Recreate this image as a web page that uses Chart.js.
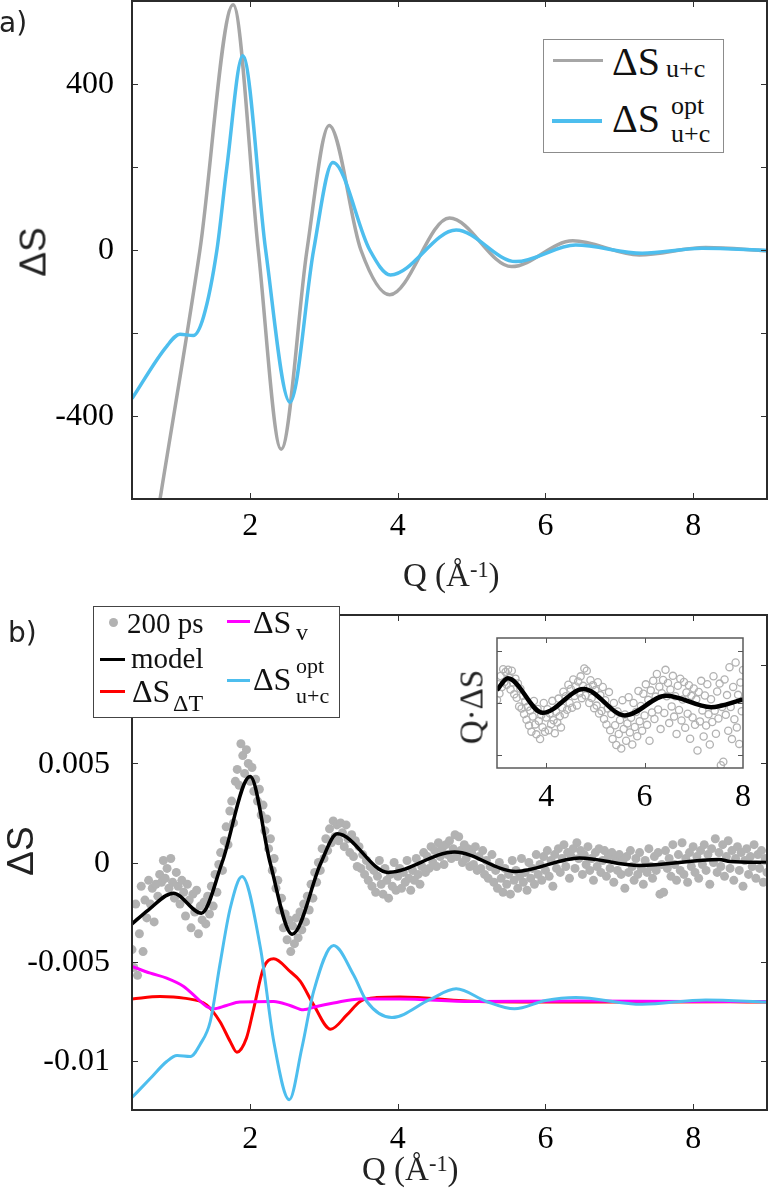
<!DOCTYPE html>
<html><head><meta charset="utf-8"><title>ΔS</title>
<script src="https://cdn.jsdelivr.net/npm/chart.js@4.4.1/dist/chart.umd.min.js"></script>
<style>
html,body{margin:0;padding:0;background:#fff}
#page{position:relative;width:772px;height:1189px;overflow:hidden;background:#fff;color:#111;font-family:"Liberation Serif",serif}
#page canvas{position:absolute}
.t{position:absolute;white-space:nowrap;line-height:1}
.box{position:absolute;background:#fff;box-sizing:border-box}
.sw{position:absolute}
.rot{position:absolute;white-space:nowrap;line-height:1;transform:translate(-50%,-50%) rotate(-90deg)}
</style></head><body><div id="page">
<canvas id="chartA" width="772" height="610" style="left:0;top:-49px"></canvas>
<canvas id="chartB" width="772" height="627" style="left:0;top:562px"></canvas>
<canvas id="chartInset" width="332" height="230" style="left:440px;top:590px"></canvas>
</div>
<script>
// ---------------- data ----------------
const qTicks = [2, 4, 6, 8];
const qTickLabels = ['2', '4', '6', '8'];
const qMin = 0.4, qMax = 9.0;

// panel a : ΔS_u+c and ΔS_u+c^opt
const yTicksA = [-400, -200, 0, 200, 400];
const yLabelsA = ['-400', '', '0', '', '400'];
const qUC  = [0.4, 0.78, 1.32, 1.77, 2.11, 2.42, 2.77, 3.07, 3.50, 3.89, 4.70, 5.54, 6.37, 7.27, 8.17, 9.0];
const dsUC = [-1020, -600, 0, 591, 0, -480, 0, 300, 0, -108, 77, -40, 22, -12, 6, -2];
const qOptA  = [0.4, 0.87, 1.05, 1.23, 1.37, 1.55, 1.685, 1.90, 2.21, 2.54, 2.86, 3.12, 3.62, 3.90, 4.79, 5.60, 6.41, 7.31, 8.12, 9.0];
const dsOptA = [-358, -232, -203, -206, -160, 0, 200, 468, 0, -367, 0, 211, 0, -60, 48, -28, 12, -8, 4, -1];

// panel b
const yTicksB = [-0.01, -0.005, 0, 0.005, 0.01];
const yLabelsB = ['-0.01', '-0.005', '0', '0.005', ''];
const qModel  = [0.4, 0.62, 0.96, 1.34, 1.62, 2.0, 2.27, 2.57, 2.96, 3.18, 3.87, 4.77, 5.6, 6.46, 7.27, 8.35, 8.5, 9.0];
const dsModel = [-0.0031, -0.0024, -0.00155, -0.00256, 0.0, 0.00434, 0.0, -0.00362, 0.0, 0.00145, -0.0005, 0.00053, -0.00045, 0.00023, -0.00015, 0.00015, 0.00005, 0.0];
const qDT  = [0.4, 0.78, 1.1, 1.41, 1.59, 1.73, 1.82, 1.95, 2.05, 2.18, 2.32, 2.54, 2.68, 2.86, 3.09, 3.31, 3.49, 3.71, 4.03, 5.1, 6.5, 8.5, 9.0];
const dsDT = [-0.00689, -0.00677, -0.00685, -0.00719, -0.00803, -0.00904, -0.00958, -0.00887, -0.00735, -0.00534, -0.00486, -0.0055, -0.0060, -0.00719, -0.00842, -0.0077, -0.00702, -0.00682, -0.00679, -0.00702, -0.00705, -0.00703, -0.00705];
const qV  = [0.4, 0.65, 0.87, 1.1, 1.28, 1.41, 1.5, 1.68, 1.86, 2.32, 2.54, 2.72, 2.9, 3.13, 3.49, 4.03, 5.0, 6.5, 8.0, 9.0];
const dsV = [-0.00525, -0.00559, -0.00584, -0.00626, -0.00685, -0.00727, -0.00739, -0.00722, -0.00705, -0.00702, -0.00722, -0.00744, -0.00727, -0.0071, -0.00689, -0.00689, -0.00702, -0.0070, -0.00702, -0.00702];
const qOptB  = [0.4, 0.65, 0.87, 1.01, 1.19, 1.32, 1.46, 1.59, 1.73, 1.89, 2.14, 2.32, 2.53, 2.70, 2.86, 3.13, 3.40, 3.58, 3.92, 4.43, 4.79, 5.2, 5.58, 6.0, 6.41, 7.31, 8.17, 9.0];
const dsOptB = [-0.01187, -0.0109, -0.01005, -0.00975, -0.0098, -0.0092, -0.00803, -0.00517, -0.00231, -0.00071, -0.00433, -0.00904, -0.01198, -0.00938, -0.00651, -0.00419, -0.00567, -0.00702, -0.00783, -0.00693, -0.00638, -0.00702, -0.00739, -0.00697, -0.00682, -0.00716, -0.00694, -0.00705];

// 200 ps measurement, sampled on the Q grid dotQStart + k*dotQStep
const dotQStart = 0.4, dotQStep = 0.025;
const ds200ps = [
-0.0044,-0.0053,-0.0021,-0.0057,-0.0036,-0.0012,-0.0045,-0.0019,
-0.0028,-0.0009,-0.0021,-0.0013,-0.0030,-0.0011,-0.0017,-0.0006,
-0.0010,0.0001,-0.0008,-0.0003,-0.0013,0.0002,-0.0010,-0.0018,
-0.0005,-0.0012,-0.0021,-0.0009,-0.0015,-0.0027,-0.0011,-0.0019,-0.0033,-0.0016,
-0.0025,-0.0014,-0.0036,-0.0022,-0.0029,-0.0020,-0.0031,-0.0017,-0.0026,-0.0012,
-0.0022,-0.0006,-0.0015,-0.0001,0.0005,-0.0004,0.0011,0.0018,0.0009,0.0026,
0.0031,0.0020,0.0041,0.0047,0.0039,0.0060,0.0054,0.0045,0.0057,0.0050,
0.0041,0.0048,0.0036,0.0042,0.0031,0.0037,0.0024,0.0029,0.0016,0.0022,
0.0007,0.0012,-0.0004,0.0002,-0.0013,-0.0009,-0.0024,-0.0018,-0.0033,-0.0026,
-0.0039,-0.0029,-0.0045,-0.0032,-0.0041,-0.0028,-0.0038,-0.0025,-0.0034,-0.0021,
-0.0030,-0.0017,-0.0024,-0.0011,-0.0018,-0.0005,-0.0010,0.0000,-0.0004,0.0007,
0.0002,0.0012,0.0006,0.0017,0.0010,0.0021,0.0013,0.0019,0.0011,0.0020,
0.0015,0.0008,0.0019,0.0012,0.0005,0.0014,0.0003,0.0011,-0.0002,0.0008,
-0.0003,0.0004,-0.0006,0.0001,-0.0009,-0.0002,-0.0012,-0.0004,-0.0015,-0.0007,
0.0001,-0.0011,-0.0016,-0.0003,-0.0009,-0.0018,-0.0006,-0.0012,0.0000,-0.0014,
-0.0007,-0.0003,-0.0013,-0.0005,-0.0010,0.0001,-0.0008,-0.0014,-0.0004,-0.0009,
0.0002,-0.0006,-0.0011,-0.0002,0.0005,-0.0005,0.0003,-0.0003,0.0008,0.0000,
0.0006,-0.0002,0.0010,0.0003,0.0007,-0.0001,0.0009,0.0004,0.0011,0.0002,
0.0007,0.0014,0.0003,0.0013,0.0006,0.0000,0.0009,0.0002,0.0007,-0.0002,
0.0005,-0.0001,0.0008,-0.0004,0.0003,-0.0003,0.0006,-0.0006,0.0001,-0.0008,
-0.0002,0.0004,-0.0010,-0.0004,-0.0013,0.0000,-0.0008,-0.0015,-0.0003,-0.0011,
-0.0006,-0.0016,0.0001,-0.0009,-0.0004,-0.0013,-0.0007,0.0002,-0.0010,-0.0005,
-0.0014,0.0000,-0.0008,-0.0003,-0.0011,0.0004,-0.0006,-0.0001,-0.0009,0.0003,
-0.0004,0.0006,-0.0007,0.0001,-0.0012,0.0004,-0.0003,0.0007,-0.0005,0.0002,
0.0009,-0.0002,0.0005,-0.0008,0.0003,0.0007,-0.0003,0.0010,0.0002,0.0006,
-0.0006,0.0004,-0.0001,0.0008,-0.0004,0.0002,-0.0009,0.0005,-0.0002,0.0007,
-0.0005,0.0001,0.0006,-0.0007,0.0003,-0.0003,0.0005,-0.0010,0.0002,-0.0004,
0.0004,-0.0006,0.0001,-0.0013,0.0003,-0.0005,0.0006,-0.0002,-0.0009,0.0002,
-0.0006,0.0005,-0.0003,-0.0011,0.0001,-0.0005,0.0007,-0.0002,-0.0008,0.0003,
-0.0004,0.0005,-0.0016,-0.0001,-0.0015,0.0006,-0.0003,0.0002,-0.0007,0.0009,
-0.0001,-0.0009,0.0004,-0.0004,0.0010,-0.0006,0.0002,-0.0010,0.0005,-0.0002,
0.0008,-0.0005,0.0003,-0.0008,0.0006,-0.0001,0.0009,-0.0004,0.0004,-0.0011,
0.0007,0.0000,0.0012,-0.0005,0.0005,-0.0002,0.0009,-0.0007,0.0003,0.0011,
-0.0003,0.0006,-0.0009,0.0002,0.0008,-0.0004,0.0005,-0.0012,0.0001,0.0007,
-0.0006,0.0003,-0.0002,0.0009,-0.0008,0.0004,-0.0003,0.0006,-0.0010,0.0002,
-0.0005];

// inset : Q·ΔS for 3 <= Q <= 8
const qInsetRange = [3, 8];
const qTicksInset = [4, 6, 8];
const qTickLabelsInset = ['4', '6', '8'];
const yTicksInset = [-0.01, 0, 0.01];
const qInsetModel   = [3.0, 3.22, 3.93, 4.76, 5.6, 6.44, 7.35, 8.0];
const qdsInsetModel = [0.0025, 0.0048, -0.0019, 0.0027, -0.0024, 0.0014, -0.0008, 0.0007];

// ---------------- colours ----------------
const cGray = 'rgb(166,166,166)', cDot = 'rgb(178,178,178)', cBlue = 'rgb(77,190,238)';
const cRed = 'rgb(255,0,0)', cMag = 'rgb(255,0,255)', cBlack = '#000';

// ---------------- helpers ----------------
const pts = (xs, ys) => xs.map((x, i) => ({ x: x, y: ys[i] }));
const dotPts = ds200ps.map((v, k) => ({ x: +(dotQStart + k * dotQStep).toFixed(3), y: v }));
const insetDots = dotPts.filter(p => p.x >= qInsetRange[0] && p.x <= qInsetRange[1]).map(p => ({ x: p.x, y: p.x * p.y }));

// frame, inward mirrored ticks and tick labels, all placed through the chart's scales
const frame = {
  id: 'frame',
  beforeDraw(chart, args, o) {
    if (!o.fill) return;
    const a = chart.chartArea, ctx = chart.ctx;
    ctx.save(); ctx.fillStyle = o.fill; ctx.fillRect(a.left, a.top, a.right - a.left, a.bottom - a.top); ctx.restore();
  },
  afterDraw(chart, args, o) {
    const ctx = chart.ctx, a = chart.chartArea, x = chart.scales.x, y = chart.scales.y;
    ctx.save();
    ctx.strokeStyle = o.tickColor; ctx.lineWidth = o.tickWidth;
    ctx.beginPath();
    x.ticks.forEach(t => {
      const p = Math.round(x.getPixelForValue(t.value)) + 0.5;
      if (p <= a.left + 1 || p >= a.right - 1) return;
      ctx.moveTo(p, a.bottom); ctx.lineTo(p, a.bottom - o.len);
      ctx.moveTo(p, a.top); ctx.lineTo(p, a.top + o.len);
    });
    y.ticks.forEach(t => {
      const p = Math.round(y.getPixelForValue(t.value)) + 0.5;
      if (p <= a.top + 1 || p >= a.bottom - 1) return;
      ctx.moveTo(a.left, p); ctx.lineTo(a.left + o.len, p);
      ctx.moveTo(a.right, p); ctx.lineTo(a.right - o.len, p);
    });
    ctx.stroke();
    ctx.strokeStyle = o.color; ctx.lineWidth = o.width;
    ctx.strokeRect(a.left, a.top, a.right - a.left, a.bottom - a.top);
    // tick labels
    ctx.font = o.font; ctx.fillStyle = '#000';
    ctx.textAlign = 'center'; ctx.textBaseline = 'alphabetic';
    x.ticks.forEach((t, i) => {
      const lab = o.xLabels[i];
      if (lab) ctx.fillText(lab, x.getPixelForValue(t.value), a.bottom + o.xBase);
    });
    if (o.yLabels) {
      ctx.textAlign = 'right'; ctx.textBaseline = 'middle';
      y.ticks.forEach((t, i) => {
        const lab = o.yLabels[i];
        if (lab) ctx.fillText(lab, a.left - o.yPad, y.getPixelForValue(t.value) + 1);
      });
    }
    ctx.restore();
  }
};

const tickFontCss = "32px 'Liberation Serif', 'Times New Roman', serif";
function xScale(min, max, ticks, height) {
  return {
    type: 'linear', min: min, max: max,
    afterBuildTicks: s => { s.ticks = ticks.map(v => ({ value: v })); },
    afterFit: s => { s.height = height; },
    grid: { display: false, drawTicks: false }, border: { display: false },
    ticks: { display: false }
  };
}
function yScale(min, max, ticks, width) {
  return {
    type: 'linear', min: min, max: max,
    afterBuildTicks: s => { s.ticks = ticks.map(v => ({ value: v })); },
    afterFit: s => { s.width = width; },
    grid: { display: false, drawTicks: false }, border: { display: false },
    ticks: { display: false }
  };
}
const line = (label, data, color, w, order) => ({
  type: 'line', label: label, data: data, borderColor: color, backgroundColor: color, borderWidth: w,
  pointRadius: 0, pointHoverRadius: 0, cubicInterpolationMode: 'monotone', fill: false, order: order
});
const common = { responsive: false, animation: false, events: [], plugins: { legend: { display: false }, tooltip: { enabled: false } } };

// ---------------- panel a ----------------
new Chart(document.getElementById('chartA'), {
  type: 'line',
  data: { datasets: [
    line('ΔS u+c', pts(qUC, dsUC), cGray, 3.5, 2),
    line('ΔS opt u+c', pts(qOptA, dsOptA), cBlue, 3.5, 1)
  ] },
  options: Object.assign({}, common, {
    layout: { padding: { top: 50, right: 5, left: 0, bottom: 0 } },
    scales: { x: xScale(qMin, qMax, qTicks, 62), y: yScale(-600, 600, yTicksA, 132) },
    plugins: Object.assign({}, common.plugins, { frame: {
      color: '#2b2b2b', width: 2, tickColor: '#333', tickWidth: 1, len: 6,
      font: tickFontCss, xLabels: qTickLabels, xBase: 36, yLabels: yLabelsA, yPad: 18 } })
  }),
  plugins: [frame]
});

// ---------------- panel b ----------------
new Chart(document.getElementById('chartB'), {
  type: 'line',
  data: { datasets: [
    { type: 'scatter', label: '200 ps', data: dotPts, pointRadius: 4.5, pointHoverRadius: 4.5, backgroundColor: cDot, borderWidth: 0, order: 10 },
    line('ΔS ΔT', pts(qDT, dsDT), cRed, 3, 4),
    line('ΔS v', pts(qV, dsV), cMag, 3, 3),
    line('ΔS opt u+c', pts(qOptB, dsOptB), cBlue, 3, 2),
    line('model', pts(qModel, dsModel), cBlack, 3.5, 1)
  ] },
  options: Object.assign({}, common, {
    layout: { padding: { top: 53, right: 5, left: 0, bottom: 0 } },
    scales: { x: xScale(qMin, qMax, qTicks, 79), y: yScale(-0.0125, 0.0125, yTicksB, 132) },
    plugins: Object.assign({}, common.plugins, { frame: {
      color: '#2b2b2b', width: 2, tickColor: '#333', tickWidth: 1, len: 6,
      font: tickFontCss, xLabels: qTickLabels, xBase: 38, yLabels: yLabelsB, yPad: 22 } })
  }),
  plugins: [frame]
});

// ---------------- inset ----------------
new Chart(document.getElementById('chartInset'), {
  type: 'line',
  data: { datasets: [
    { type: 'scatter', label: 'Q·ΔS 200 ps', data: insetDots, pointRadius: 3.6, pointHoverRadius: 3.6, backgroundColor: 'rgba(0,0,0,0)', borderColor: cDot, borderWidth: 1.3, order: 5 },
    line('Q·ΔS model', pts(qInsetModel, qdsInsetModel), cBlack, 4.5, 1)
  ] },
  options: Object.assign({}, common, {
    layout: { padding: { top: 48, right: 29, left: 0, bottom: 0 } },
    scales: { x: xScale(qInsetRange[0], qInsetRange[1], qTicksInset, 52), y: yScale(-0.0126, 0.0126, yTicksInset, 57) },
    plugins: Object.assign({}, common.plugins, { frame: {
      fill: '#fff', color: '#5a5a5a', width: 1.5, tickColor: '#555', tickWidth: 1, len: 5,
      font: tickFontCss, xLabels: qTickLabelsInset, xBase: 38, yLabels: null, yPad: 0 } })
  }),
  plugins: [frame]
});

// ---------------- text overlays ----------------
const page = document.getElementById('page');
const SERIF = '"Liberation Serif", serif', SANS = '"DejaVu Sans", sans-serif', LSANS = '"Liberation Sans", sans-serif';
const ascOf = { [SERIF]: 0.8375, [SANS]: 0.846, [LSANS]: 0.8465 };
function txt(html, left, base, size, fam, color) {
  const d = document.createElement('div');
  d.className = 't'; d.innerHTML = html;
  d.style.left = left + 'px'; d.style.fontSize = size + 'px'; d.style.fontFamily = fam;
  d.style.top = (base - ascOf[fam] * size) + 'px';
  if (color) d.style.color = color;
  page.appendChild(d); return d;
}
function rot(html, cx, cy, size, fam) {
  const d = document.createElement('div');
  d.className = 'rot'; d.innerHTML = html;
  d.style.left = cx + 'px'; d.style.top = cy + 'px'; d.style.fontSize = size + 'px'; d.style.fontFamily = fam;
  d.style.color = '#222';
  page.appendChild(d); return d;
}
function rect(cls, l, t, w, h, css) {
  const d = document.createElement('div');
  d.className = cls; d.style.left = l + 'px'; d.style.top = t + 'px'; d.style.width = w + 'px'; d.style.height = h + 'px';
  Object.assign(d.style, css || {});
  page.appendChild(d); return d;
}

// panel labels
txt('a)', -1, 33, 28, SANS, '#222');
txt('b)', 8, 643, 28, SANS, '#222');

// axis titles
const qTitle = 'Q (Å<span style="position:relative;top:-0.42em;font-size:0.68em">-1</span>)';
txt(qTitle, 403, 587, 33, SERIF, '#222');
txt(qTitle, 362, 1181, 33, SERIF, '#222');
rot('ΔS', 33, 252, 37, LSANS);
rot('ΔS', 20, 851, 37, LSANS);
rot('Q·ΔS', 472, 707, 33, SERIF);

// legend a
rect('box', 543, 39, 181, 114, { border: '1px solid #8c8c8c' });
rect('sw', 553, 58.5, 50, 3.6, { background: cGray });
txt('ΔS', 612, 75, 40, SERIF);
txt('u+c', 666, 78, 26, SERIF);
rect('sw', 552, 119, 50, 3.6, { background: cBlue });
txt('ΔS', 612, 132, 40, SERIF);
txt('opt', 671, 115, 26, SERIF);
txt('u+c', 671, 143, 26, SERIF);

// legend b
rect('box', 93, 606, 247, 112, { border: '1.5px solid #444' });
rect('sw', 108.8, 617.8, 9, 9, { background: cDot, borderRadius: '50%' });
txt('200 ps', 127, 633, 29, SERIF);
rect('sw', 100, 657.5, 25, 3.6, { background: cBlack });
txt('model', 131, 668, 29, SERIF);
rect('sw', 100, 690, 25, 3, { background: cRed });
txt('ΔS', 132, 701.5, 32, SERIF);
txt('ΔT', 173, 711, 24, SERIF);
rect('sw', 227, 620, 23, 3, { background: cMag });
txt('ΔS', 253, 633, 32, SERIF);
txt('v', 296, 640, 24, SERIF);
rect('sw', 227, 678.5, 23, 3, { background: cBlue });
txt('ΔS', 253, 690, 32, SERIF);
txt('opt', 296, 673, 22, SERIF);
txt('u+c', 296, 703, 22, SERIF);
</script>
</body></html>
